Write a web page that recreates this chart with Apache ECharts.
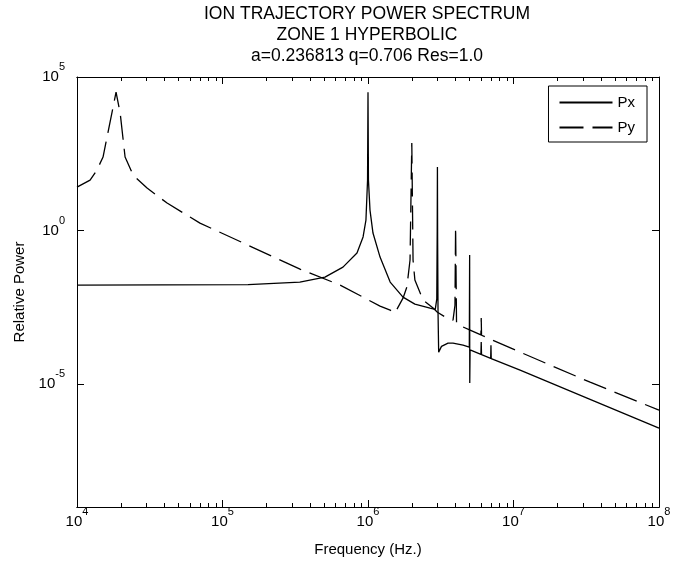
<!DOCTYPE html>
<html>
<head>
<meta charset="utf-8">
<title>Ion trajectory power spectrum</title>
<script src="https://cdn.jsdelivr.net/npm/echarts@6.0.0/dist/echarts.min.js"></script>
<style>
  html, body { margin: 0; padding: 0; background: #fff; }
  #spectrum { width: 686px; height: 567px; }
</style>
</head>
<body>
<div id="spectrum"></div>
<script>
// values: [frequency Hz, relative power]
const pxData = [
  [1e4, 0.0168], [1.5e5, 0.0175], [3.4e5, 0.0209], [5.06e5, 0.0305],
  [6.73e5, 0.0645], [8.4e5, 0.185], [9.25e5, 0.62], [9.68e5, 2.2],
  [9.93e5, 44], [1e6, 3.2e4], [1.007e6, 44], [1.032e6, 4.65],
  [1.082e6, 0.83], [1.21e6, 0.137], [1.42e6, 0.021], [1.74e6, 0.00683],
  [2.1e6, 0.00404], [2.67e6, 0.00299], [2.9e6, 0.0027], [2.97e6, 0.006],
  [2.99e6, 1.0], [3.0e6, 117], [3.01e6, 0.5], [3.03e6, 0.002],
  [3.06e6, 1.1e-4], [3.2e6, 1.7e-4], [3.55e6, 2.17e-4], [3.84e6, 2.17e-4],
  [4.5e6, 1.86e-4], [4.97e6, 1.6e-4], [4.995e6, 0.159], [5.005e6, 1.08e-5],
  [5.03e6, 1.3e-4], [5.97e6, 9.3e-5], [6.0e6, 2.34e-4], [6.03e6, 9.1e-5],
  [6.97e6, 6.9e-5], [7.0e6, 1.86e-4], [7.03e6, 6.8e-5], [1.11e7, 2.86e-5],
  [3.36e7, 3.2e-6], [1e8, 3.69e-7]
];
const pyData = [
  [1e4, 26], [1.23e4, 44], [1.37e4, 93], [1.51e4, 248],
  [1.63e4, 1500], [1.77e4, 1.05e4], [1.855e4, 3.24e4], [1.98e4, 6700],
  [2.14e4, 248], [2.43e4, 64], [3.03e4, 24.2], [4.16e4, 7.87],
  [7.0e4, 1.75], [3.41e5, 0.0557], [6.43e5, 0.0168], [1.21e6, 0.00347],
  [1.42e6, 0.00257], [1.53e6, 0.00206], [1.74e6, 0.0063], [1.85e6, 0.0145],
  [1.945e6, 0.11], [2.0e6, 708], [2.04e6, 0.11], [2.1e6, 0.0245],
  [2.39e6, 0.00545], [2.8e6, 0.003], [3.0e6, 0.0022], [3.49e6, 0.00141],
  [3.84e6, 0.00122], [3.96e6, 0.0037], [4.0e6, 1.3], [4.06e6, 9e-4],
  [5.03e6, 5.75e-4], [5.97e6, 4.0e-4], [6.0e6, 1.41e-3], [6.03e6, 3.9e-4],
  [1.11e7, 1.1e-4], [3.36e7, 1.16e-5], [1e8, 1.42e-6]
];
const xMajorTicks = [1e4, 1e5, 1e6, 1e7, 1e8];
const yMajorTicks = [1e-5, 1, 1e5];
const xMinorTicks = [];
for (let d = 4; d < 8; d++) {
  for (let m = 2; m <= 9; m++) xMinorTicks.push(m * Math.pow(10, d));
}

const fontName = 'Liberation Sans';
const ink = '#000';

function powLabel(v) {
  return '{b|10}{s|' + Math.round(Math.log10(v)) + '}';
}
const powRich = {
  b: { fontSize: 15, fontFamily: fontName, color: ink },
  s: { fontSize: 11, fontFamily: fontName, color: ink, padding: [0, 0, 20, 0] }
};

function xAx(pos, ticks, len, withLabels) {
  return {
    type: 'log', logBase: 10, min: 1e4, max: 1e8, position: pos,
    axisLine: { show: true, onZero: false, lineStyle: { color: ink, width: 1 } },
    axisTick: { show: true, inside: true, length: len, customValues: ticks, lineStyle: { color: ink } },
    axisLabel: withLabels ? {
      show: true, customValues: xMajorTicks, margin: -1,
      formatter: powLabel, rich: powRich
    } : { show: false },
    splitLine: { show: false },
    minorTick: { show: false },
    name: withLabels ? 'Frequency (Hz.)' : '',
    nameLocation: 'middle', nameGap: 35,
    nameTextStyle: { fontSize: 15, fontFamily: fontName, color: ink }
  };
}

function yAx(pos, withLabels) {
  return {
    type: 'log', logBase: 10, min: 1e-9, max: 1e5, position: pos,
    axisLine: { show: true, onZero: false, lineStyle: { color: ink, width: 1 } },
    axisTick: { show: true, inside: true, length: 7, customValues: yMajorTicks, lineStyle: { color: ink } },
    axisLabel: withLabels ? {
      show: true, customValues: yMajorTicks, margin: 12,
      formatter: powLabel, rich: powRich
    } : { show: false },
    splitLine: { show: false },
    minorTick: { show: false },
    name: withLabels ? 'Relative Power' : '',
    nameLocation: 'middle', nameGap: 49,
    nameTextStyle: { fontSize: 15, fontFamily: fontName, color: ink }
  };
}

var chartDom = document.getElementById('spectrum');
var myChart = echarts.init(chartDom, null, { renderer: 'canvas' });

var option = {
  animation: false,
  backgroundColor: '#fff',
  title: {
    text: 'ION TRAJECTORY POWER SPECTRUM\nZONE 1 HYPERBOLIC\na=0.236813 q=0.706 Res=1.0',
    left: 367, top: 4, textAlign: 'center', padding: 0,
    textStyle: { fontSize: 17.5, fontWeight: 'normal', fontFamily: fontName, color: ink, lineHeight: 21 }
  },
  legend: {
    data: ['Px', 'Py'],
    orient: 'vertical', right: 39, top: 86,
    itemWidth: 53, itemHeight: 14, itemGap: 10,
    padding: [9, 12, 7, 10],
    borderColor: ink, borderWidth: 1, backgroundColor: '#fff',
    itemStyle: { opacity: 0 },
    textStyle: { fontSize: 15, fontFamily: fontName, color: ink }
  },
  grid: { left: 77, right: 27, top: 77, bottom: 60, containLabel: false },
  xAxis: [
    xAx('bottom', xMajorTicks, 7, true),
    xAx('bottom', xMinorTicks, 4, false),
    xAx('top', xMajorTicks, 7, false),
    xAx('top', xMinorTicks, 4, false)
  ],
  yAxis: [yAx('left', true), yAx('right', false)],
  series: [
    {
      name: 'Px', type: 'line', data: pxData,
      xAxisIndex: 0, yAxisIndex: 0,
      symbol: 'none', showSymbol: false, clip: true,
      lineStyle: { color: ink, width: 1.3, type: 'solid' },
      itemStyle: { color: ink }
    },
    {
      name: 'Py', type: 'line', data: pyData,
      xAxisIndex: 0, yAxisIndex: 0,
      symbol: 'none', showSymbol: false, clip: true,
      lineStyle: { color: ink, width: 1.3, type: [24, 9] },
      itemStyle: { color: ink }
    }
  ]
};

if (option && typeof option === 'object') {
  myChart.setOption(option);
}

window.addEventListener('resize', myChart.resize);
</script>
</body>
</html>
